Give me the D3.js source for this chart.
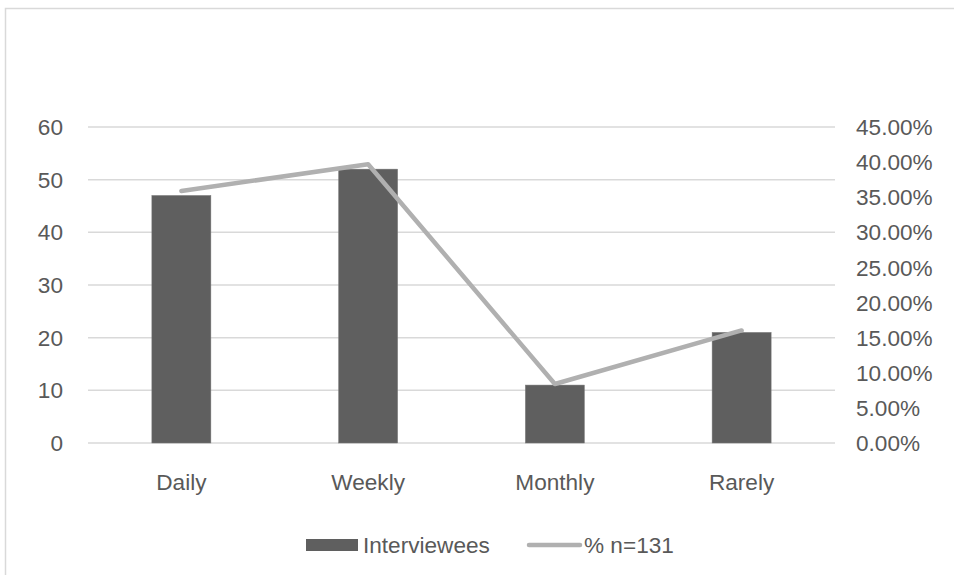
<!DOCTYPE html>
<html>
<head>
<meta charset="utf-8">
<script src="https://cdn.jsdelivr.net/npm/d3@7"></script>
<style>
  body { margin: 0; background: #fff; }
  svg { display: block; font-family: "Liberation Sans", Arial, sans-serif; }
</style>
</head>
<body>
<div id="chart"></div>
<script>
// chart values
const categories = ["Daily", "Weekly", "Monthly", "Rarely"];
const interviewees = [47, 52, 11, 21];
const percentN131 = [0.3588, 0.3969, 0.0840, 0.1603];
const leftTicks = [0, 10, 20, 30, 40, 50, 60];
const rightTicks = [0, 0.05, 0.10, 0.15, 0.20, 0.25, 0.30, 0.35, 0.40, 0.45];
const seriesNames = ["Interviewees", "% n=131"];

const width = 954, height = 575;
const plot = { left: 88, right: 835, top: 127, bottom: 443 };
const textColor = "#595959";
const fontSize = 22.6;

const svg = d3.select("#chart")
    .append("svg")
    .attr("width", width)
    .attr("height", height);

// outer chart border (right/bottom fall outside the picture)
svg.append("rect")
    .attr("x", 5.5).attr("y", 8.5)
    .attr("width", 980).attr("height", 600)
    .attr("fill", "none")
    .attr("stroke", "#d9d9d9")
    .attr("stroke-width", 1.5);

const x = d3.scaleBand()
    .domain(categories)
    .range([plot.left, plot.right])
    .paddingInner(0.684)
    .paddingOuter(0.342);

// band centres for the line, same categories
const xc = d3.scaleBand().domain(categories).range([plot.left, plot.right]);

const yLeft = d3.scaleLinear().domain([0, 60]).range([plot.bottom, plot.top]);
const yRight = d3.scaleLinear().domain([0, 0.45]).range([plot.bottom, plot.top]);

//gridlines
svg.append("g")
    .selectAll("line")
    .data(leftTicks)
    .enter().append("line")
    .attr("x1", plot.left).attr("x2", plot.right)
    .attr("y1", d => yLeft(d)).attr("y2", d => yLeft(d))
    .attr("stroke", "#d9d9d9")
    .attr("stroke-width", 1.5);

//left axis labels
svg.append("g")
    .selectAll("text")
    .data(leftTicks)
    .enter().append("text")
    .attr("x", 63)
    .attr("y", d => yLeft(d))
    .attr("dy", "0.36em")
    .attr("text-anchor", "end")
    .attr("fill", textColor)
    .style("font-size", fontSize + "px")
    .text(d => d);

//right axis labels
const pct = d3.format(".2%");
svg.append("g")
    .selectAll("text")
    .data(rightTicks)
    .enter().append("text")
    .attr("x", 856)
    .attr("y", d => yRight(d))
    .attr("dy", "0.36em")
    .attr("text-anchor", "start")
    .attr("fill", textColor)
    .style("font-size", fontSize + "px")
    .text(d => pct(d));

//bars
svg.append("g")
    .selectAll("rect")
    .data(categories)
    .enter().append("rect")
    .attr("x", d => x(d))
    .attr("y", (d, i) => yLeft(interviewees[i]))
    .attr("width", x.bandwidth())
    .attr("height", (d, i) => yLeft(0) - yLeft(interviewees[i]))
    .attr("fill", "#5f5f5f")
    .attr("stroke", "#7a7a7a")
    .attr("stroke-width", 0.5);

//line
const line = d3.line()
    .x((d, i) => xc(categories[i]) + xc.bandwidth() / 2)
    .y(d => yRight(d));

svg.append("path")
    .datum(percentN131)
    .attr("d", line)
    .attr("fill", "none")
    .attr("stroke", "#b0b0b0")
    .attr("stroke-width", 4.5)
    .attr("stroke-linecap", "round")
    .attr("stroke-linejoin", "round");

//category labels
svg.append("g")
    .selectAll("text")
    .data(categories)
    .enter().append("text")
    .attr("x", d => xc(d) + xc.bandwidth() / 2)
    .attr("y", 482)
    .attr("dy", "0.36em")
    .attr("text-anchor", "middle")
    .attr("fill", textColor)
    .style("font-size", fontSize + "px")
    .text(d => d);

//legend
const legend = svg.append("g");
legend.append("rect")
    .attr("x", 306).attr("y", 539)
    .attr("width", 52).attr("height", 12)
    .attr("fill", "#5f5f5f");
legend.append("text")
    .attr("x", 363).attr("y", 545)
    .attr("dy", "0.36em")
    .attr("fill", textColor)
    .style("font-size", fontSize + "px")
    .text(seriesNames[0]);
legend.append("line")
    .attr("x1", 529).attr("x2", 580)
    .attr("y1", 545).attr("y2", 545)
    .attr("stroke", "#b0b0b0")
    .attr("stroke-width", 4.5)
    .attr("stroke-linecap", "round");
legend.append("text")
    .attr("x", 584).attr("y", 545)
    .attr("dy", "0.36em")
    .attr("fill", textColor)
    .style("font-size", fontSize + "px")
    .text(seriesNames[1]);
</script>
</body>
</html>
